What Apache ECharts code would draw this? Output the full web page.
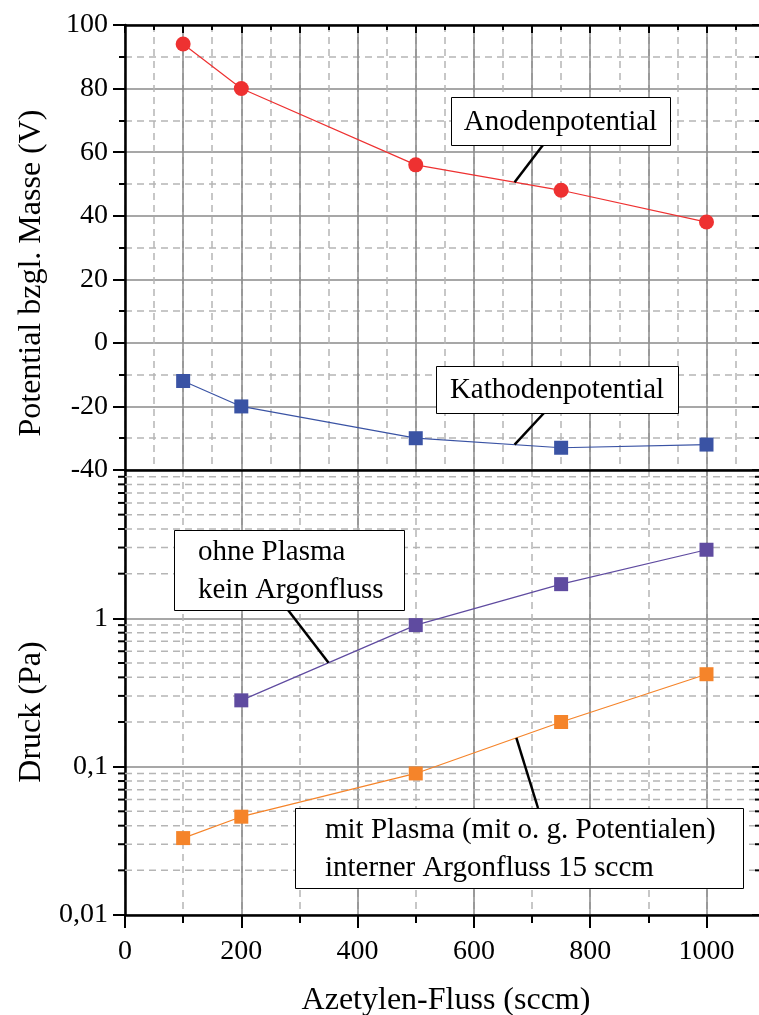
<!DOCTYPE html>
<html>
<head>
<meta charset="utf-8">
<script src="https://cdn.jsdelivr.net/npm/echarts@6/dist/echarts.min.js"></script>
<style>
  html, body { margin: 0; padding: 0; background: #ffffff; }
  #chart { width: 759px; height: 1015px; }
</style>
</head>
<body>
<div id="chart"></div>
<script>
// Acetylene flow (sccm) and measured electrode potentials (V)
const flowAnode = [100, 200, 500, 750, 1000];
const anodePotential = [94, 80, 56, 48, 38];
const flowCathode = [100, 200, 500, 750, 1000];
const cathodePotential = [-12, -20, -30, -33, -32];

// Chamber pressure (Pa)
const flowNoPlasma = [200, 500, 750, 1000];
const pressureNoPlasma = [0.28, 0.9, 1.7, 2.9];
const flowPlasma = [100, 200, 500, 750, 1000];
const pressurePlasma = [0.033, 0.046, 0.09, 0.2, 0.42];

// Tick labels
const flowTicks = [0, 200, 400, 600, 800, 1000];
const potentialTicks = [-40, -20, 0, 20, 40, 60, 80, 100];
const pressureTickValues = [0.01, 0.1, 1];
const pressureTickLabels = ['0,01', '0,1', '1'];

// Text
const potentialTitle = 'Potential bzgl. Masse (V)';
const pressureTitle = 'Druck (Pa)';
const flowTitle = 'Azetylen-Fluss (sccm)';

const FONT = '"Liberation Serif", "Times New Roman", "DejaVu Serif", serif';
const FLOW_MAX = 1092;
const LEFT = 125;
const WIDTH = 635;

const MAJOR_GRID = { show: true, lineStyle: { color: '#8a8a8a', width: 1.5, type: 'solid' } };
const MINOR_GRID = { show: true, lineStyle: { color: '#b5b5b5', width: 1.5, type: [7, 5] } };
const AXIS_LINE = { show: true, onZero: false, lineStyle: { color: '#000', width: 2.5 } };
const NO_LINE = { show: false, onZero: false };

function pairs(xs, ys) { return xs.map((x, i) => [x, ys[i]]); }

// linear interpolation along a polyline, optionally in log space
function valueAt(xs, ys, x, log) {
  for (let i = 0; i < xs.length - 1; i++) {
    if (x >= xs[i] && x <= xs[i + 1]) {
      const t = (x - xs[i]) / (xs[i + 1] - xs[i]);
      if (log) {
        return Math.pow(10, Math.log10(ys[i]) + t * (Math.log10(ys[i + 1]) - Math.log10(ys[i])));
      }
      return ys[i] + t * (ys[i + 1] - ys[i]);
    }
  }
  return ys[ys.length - 1];
}

// minor decade positions 2..9 on the pressure axis
const pressureMinor = [];
[0.01, 0.1, 1].forEach(d => { for (let k = 2; k <= 9; k++) pressureMinor.push([0, +(d * k).toPrecision(3)]); });

const chart = echarts.init(document.getElementById('chart'), null, { renderer: 'canvas' });

const flowBase = { type: 'value', min: 0, max: FLOW_MAX, axisLabel: { show: false }, splitLine: { show: false } };

const option = {
  animation: false,
  backgroundColor: '#ffffff',
  grid: [
    { left: LEFT, top: 25, width: WIDTH, height: 445, containLabel: false, outerBoundsMode: 'none' },
    { left: LEFT, top: 470, width: WIDTH, height: 445, containLabel: false, outerBoundsMode: 'none' }
  ],
  xAxis: [
    // upper panel: dashed every 50
    Object.assign({}, flowBase, { gridIndex: 0, position: 'top', interval: 50, axisLine: NO_LINE,
      axisTick: { show: true, inside: true, length: 5, lineStyle: { color: '#000', width: 2 } },
      splitLine: MINOR_GRID }),
    // upper panel: solid every 100
    Object.assign({}, flowBase, { gridIndex: 0, position: 'top', interval: 100, axisLine: AXIS_LINE,
      axisTick: { show: true, inside: true, length: 8, lineStyle: { color: '#000', width: 2 } },
      splitLine: MAJOR_GRID }),
    // frame line between panels
    Object.assign({}, flowBase, { gridIndex: 0, position: 'bottom', interval: 100, axisLine: AXIS_LINE,
      axisTick: { show: false } }),
    // lower panel: dashed every 100
    Object.assign({}, flowBase, { gridIndex: 1, position: 'bottom', interval: 100, axisLine: NO_LINE,
      axisTick: { show: true, inside: false, length: 8, lineStyle: { color: '#000', width: 2 } },
      splitLine: MINOR_GRID }),
    // lower panel: solid every 200 with labels
    Object.assign({}, flowBase, { gridIndex: 1, position: 'bottom', interval: 200, axisLine: AXIS_LINE,
      axisTick: { show: true, inside: false, length: 13, lineStyle: { color: '#000', width: 2 } },
      splitLine: MAJOR_GRID,
      axisLabel: { show: true, margin: 23, color: '#000', fontFamily: FONT, fontSize: 28,
        formatter: v => (flowTicks.indexOf(v) >= 0 ? String(v) : '') } })
  ],
  yAxis: [
    {
      type: 'value', gridIndex: 0, position: 'left', min: -40, max: 100, interval: 20,
      axisLine: AXIS_LINE,
      axisTick: { show: true, inside: false, length: 12, lineStyle: { color: '#000', width: 2 } },
      minorTick: { show: true, splitNumber: 2, length: 6, lineStyle: { color: '#000', width: 2 } },
      splitLine: MAJOR_GRID,
      minorSplitLine: MINOR_GRID,
      axisLabel: { show: true, margin: 17, color: '#000', fontFamily: FONT, fontSize: 28,
        formatter: v => (potentialTicks.indexOf(v) >= 0 ? String(v) : '') }
    },
    {
      type: 'value', gridIndex: 0, position: 'right', min: -40, max: 100, interval: 20,
      axisLine: NO_LINE,
      axisTick: { show: true, inside: true, length: 8, lineStyle: { color: '#000', width: 2 } },
      minorTick: { show: true, splitNumber: 2, length: 5, lineStyle: { color: '#000', width: 2 } },
      splitLine: { show: false }, axisLabel: { show: false }
    },
    {
      type: 'log', logBase: 10, gridIndex: 1, position: 'left', min: 0.01, max: 10, splitNumber: 3,
      axisLine: AXIS_LINE,
      axisTick: { show: true, inside: false, length: 12, lineStyle: { color: '#000', width: 2 } },
      splitLine: MAJOR_GRID,
      axisLabel: { show: true, margin: 17, color: '#000', fontFamily: FONT, fontSize: 28,
        formatter: v => {
          for (let i = 0; i < pressureTickValues.length; i++) {
            if (Math.abs(Math.log10(v) - Math.log10(pressureTickValues[i])) < 1e-6) return pressureTickLabels[i];
          }
          return '';
        } }
    },
    {
      type: 'log', logBase: 10, gridIndex: 1, position: 'right', min: 0.01, max: 10, splitNumber: 3,
      axisLine: NO_LINE,
      axisTick: { show: true, inside: true, length: 8, lineStyle: { color: '#000', width: 2 } },
      splitLine: { show: false }, axisLabel: { show: false }
    }
  ],
  series: [
    {
      // minor decade grid and ticks of the pressure axis
      type: 'custom', xAxisIndex: 4, yAxisIndex: 2, silent: true, clip: false, z: 1,
      encode: { x: 0, y: 1 },
      data: pressureMinor,
      renderItem: function (params, api) {
        const v = api.value(1);
        const pL = api.coord([0, v]);
        const pR = api.coord([FLOW_MAX, v]);
        return {
          type: 'group',
          children: [
            { type: 'line', shape: { x1: pL[0], y1: pL[1], x2: pR[0], y2: pR[1] },
              style: { stroke: '#b5b5b5', lineWidth: 1.5, lineDash: [7, 5] } },
            { type: 'line', shape: { x1: pL[0] - 7, y1: pL[1], x2: pL[0], y2: pL[1] },
              style: { stroke: '#000', lineWidth: 2 } },
            { type: 'line', shape: { x1: pR[0] - 5, y1: pR[1], x2: pR[0], y2: pR[1] },
              style: { stroke: '#000', lineWidth: 2 } }
          ]
        };
      }
    },
    {
      name: 'Anodenpotential', type: 'line', xAxisIndex: 1, yAxisIndex: 0,
      data: pairs(flowAnode, anodePotential),
      symbol: 'circle', symbolSize: 15, z: 3,
      itemStyle: { color: '#ee3131' }, lineStyle: { color: '#ee3131', width: 1.2 }
    },
    {
      name: 'Kathodenpotential', type: 'line', xAxisIndex: 1, yAxisIndex: 0,
      data: pairs(flowCathode, cathodePotential),
      symbol: 'rect', symbolSize: 14, z: 3,
      itemStyle: { color: '#3a53a4' }, lineStyle: { color: '#3a53a4', width: 1.2 }
    },
    {
      name: 'ohne Plasma', type: 'line', xAxisIndex: 4, yAxisIndex: 2,
      data: pairs(flowNoPlasma, pressureNoPlasma),
      symbol: 'rect', symbolSize: 14, z: 3,
      itemStyle: { color: '#5f4ba0' }, lineStyle: { color: '#5f4ba0', width: 1.2 }
    },
    {
      name: 'mit Plasma', type: 'line', xAxisIndex: 4, yAxisIndex: 2,
      data: pairs(flowPlasma, pressurePlasma),
      symbol: 'rect', symbolSize: 14, z: 3,
      itemStyle: { color: '#f5842a' }, lineStyle: { color: '#f5842a', width: 1.2 }
    }
  ]
};

chart.setOption(option);

// Callout boxes with leader lines pointing to a flow position on each curve
const callouts = [
  { lines: ['Anodenpotential'], box: [451, 97, 219, 48], center: true, from: [543, 145],
    xs: flowAnode, ys: anodePotential, at: 670, axes: { xAxisIndex: 1, yAxisIndex: 0 }, log: false },
  { lines: ['Kathodenpotential'], box: [436, 366, 242, 47], center: true, from: [544, 413],
    xs: flowCathode, ys: cathodePotential, at: 670, axes: { xAxisIndex: 1, yAxisIndex: 0 }, log: false },
  { lines: ['ohne Plasma', 'kein Argonfluss'], box: [174, 530, 230, 80], center: false, pad: 24, from: [288, 610],
    xs: flowNoPlasma, ys: pressureNoPlasma, at: 350, axes: { xAxisIndex: 4, yAxisIndex: 2 }, log: true },
  { lines: ['mit Plasma (mit o. g. Potentialen)', 'interner Argonfluss 15 sccm'], box: [295, 808, 448, 80], center: false, pad: 30, from: [538, 808],
    xs: flowPlasma, ys: pressurePlasma, at: 673, axes: { xAxisIndex: 4, yAxisIndex: 2 }, log: true }
];

const graphics = [];
callouts.forEach(c => {
  const y = valueAt(c.xs, c.ys, c.at, c.log);
  const p = chart.convertToPixel(c.axes, [c.at, y]);
  graphics.push({ type: 'line', z: 50, shape: { x1: c.from[0], y1: c.from[1], x2: p[0], y2: p[1] },
    style: { stroke: '#000', lineWidth: 2.5 } });
  graphics.push({ type: 'rect', z: 51, shape: { x: c.box[0] + 0.5, y: c.box[1] + 0.5, width: c.box[2], height: c.box[3] },
    style: { fill: '#fff', stroke: '#000', lineWidth: 1 } });
  if (c.center) {
    graphics.push({ type: 'text', z: 52, x: c.box[0] + c.box[2] / 2, y: c.box[1] + c.box[3] / 2 + 1,
      style: { text: c.lines[0], fontFamily: FONT, fontSize: 29, fill: '#000', align: 'center', verticalAlign: 'middle' } });
  } else {
    graphics.push({ type: 'text', z: 52, x: c.box[0] + c.pad, y: c.box[1] + 3,
      style: { text: c.lines.join('\n'), fontFamily: FONT, fontSize: 29, lineHeight: 38, fill: '#000', align: 'left', verticalAlign: 'top' } });
  }
});

// Axis titles
graphics.push({ type: 'text', x: 32, y: 273, rotation: Math.PI / 2,
  style: { text: potentialTitle, fontFamily: FONT, fontSize: 32, fill: '#000', align: 'center', verticalAlign: 'middle' } });
graphics.push({ type: 'text', x: 32, y: 712, rotation: Math.PI / 2,
  style: { text: pressureTitle, fontFamily: FONT, fontSize: 32, fill: '#000', align: 'center', verticalAlign: 'middle' } });
graphics.push({ type: 'text', x: 446, y: 1001,
  style: { text: flowTitle, fontFamily: FONT, fontSize: 32, fill: '#000', align: 'center', verticalAlign: 'middle' } });

chart.setOption({ graphic: graphics });
</script>
</body>
</html>
